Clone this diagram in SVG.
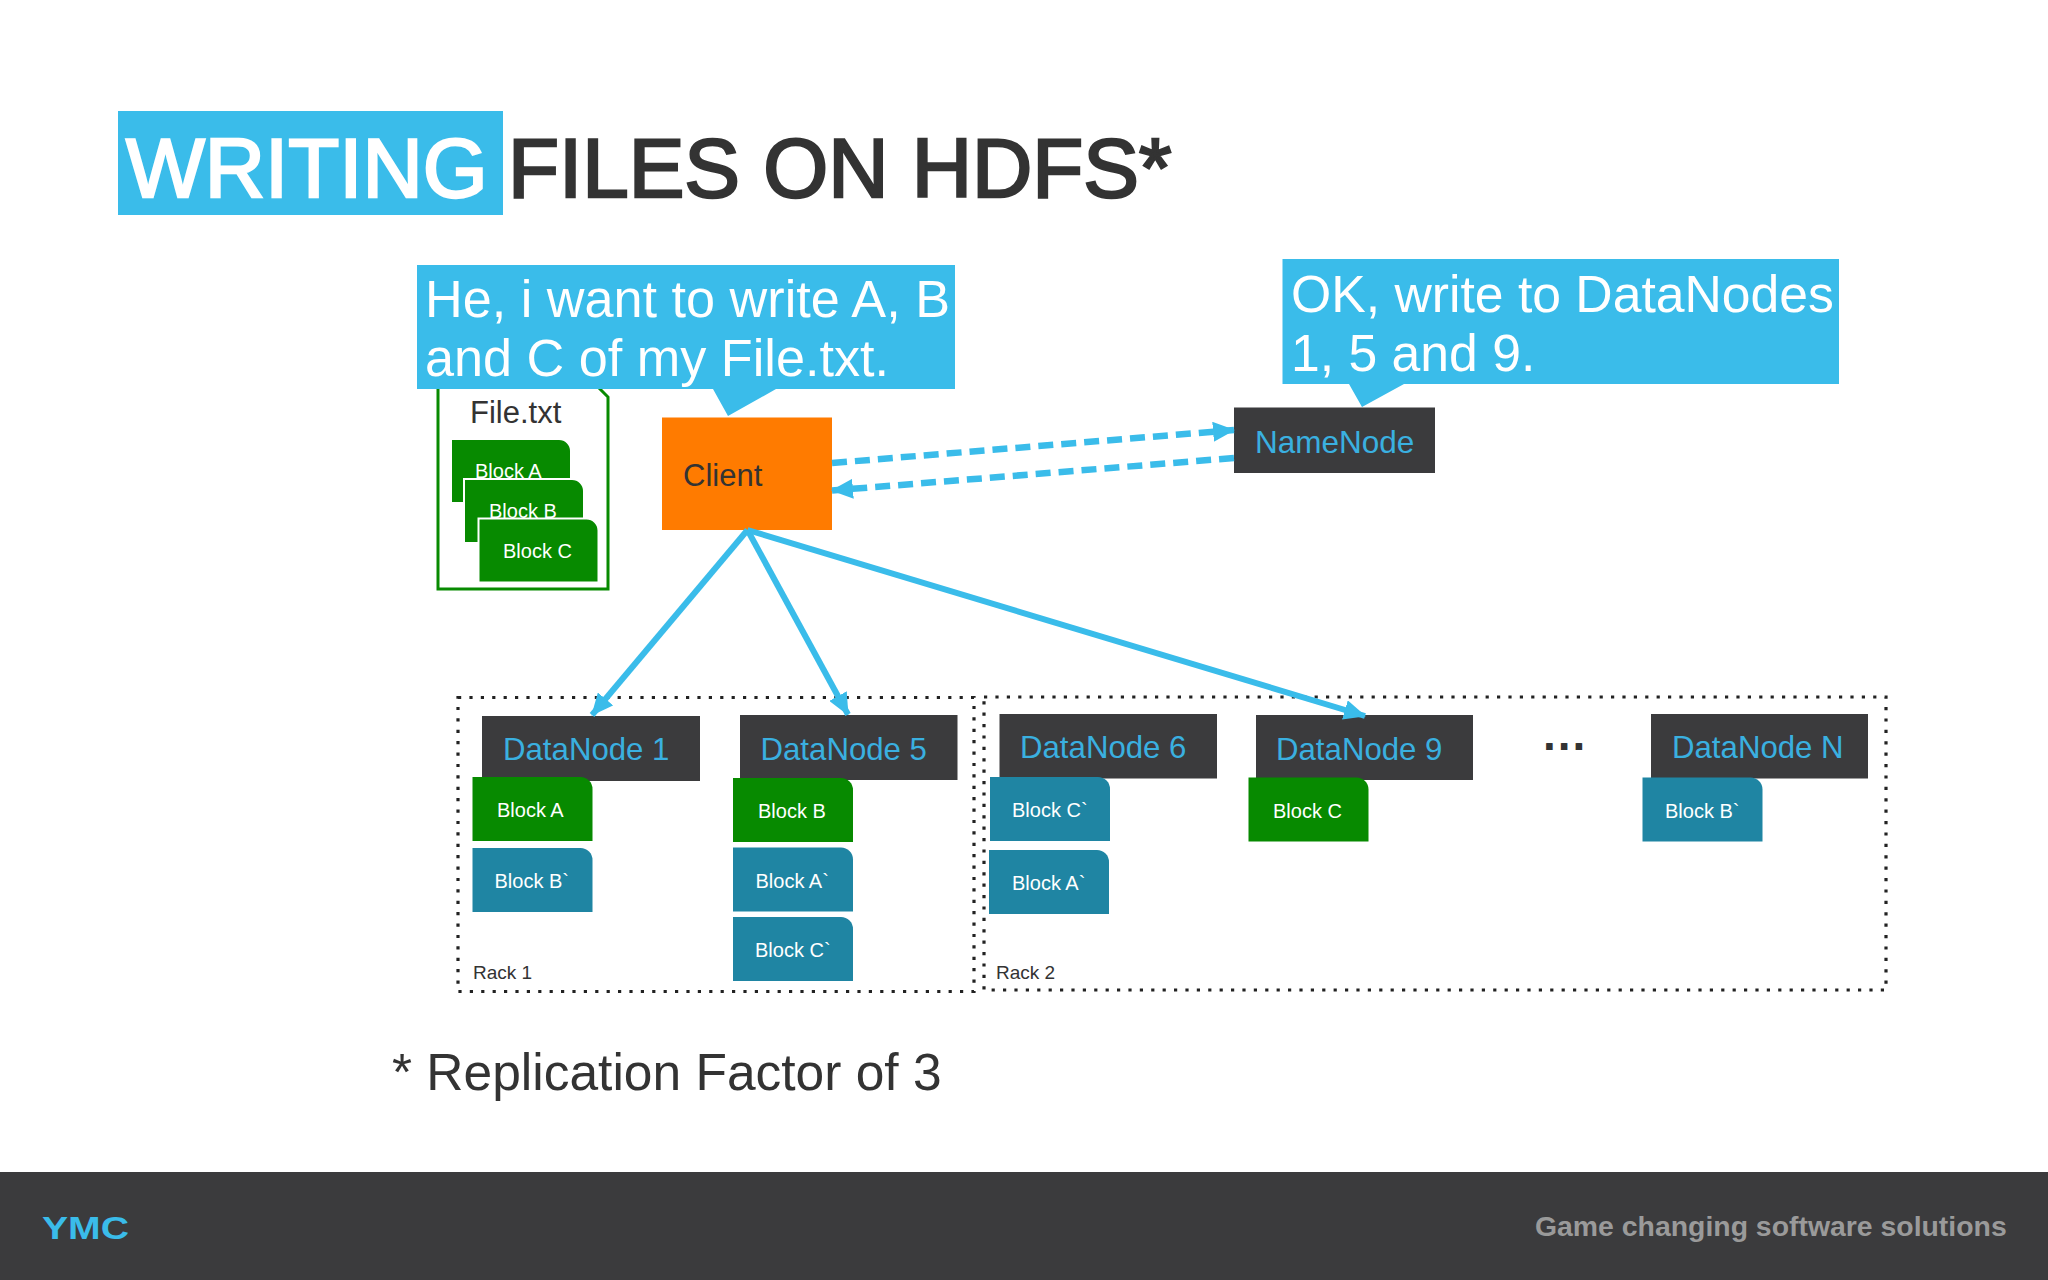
<svg xmlns="http://www.w3.org/2000/svg" width="2048" height="1280" viewBox="0 0 2048 1280">
<defs>
<style>
text{font-family:"Liberation Sans",Arial,sans-serif}
.blue{fill:#3abcea}
.dark{fill:#3b3b3d}
.bubble{font-size:51.700px;fill:#fff}
.dn{font-size:31.200px;fill:#3ab0e0}
.blk{font-size:20px;fill:#fff}
.green{fill:#078a00}
.teal{fill:#1f85a3}
.rack{fill:none;stroke:#222;stroke-width:3.2;stroke-dasharray:3.2 8.2}
.rl{font-size:19px;fill:#333}
.solid{stroke:#3abcea;stroke-width:6;fill:none;marker-end:url(#ah)}
.dash{stroke:#3abcea;stroke-width:6.500;fill:none;stroke-dasharray:15 8;marker-end:url(#ah)}
</style>
<marker id="ah" markerUnits="userSpaceOnUse" markerWidth="22" markerHeight="20" refX="21" refY="10" orient="auto"><path d="M0 0L22 10L0 20z" fill="#3abcea"/></marker>
<path id="b" d="M0 0H108a12 12 0 0 1 12 12V64H0z"/>
</defs>
<rect width="2048" height="1280" fill="#fff"/>
<g id="title">
<rect x="118" y="111" width="385" height="104" class="blue"/>
<text x="126" y="197" font-size="83.500" fill="#fff" stroke="#fff" stroke-width="2.500">WRITING</text>
<text x="508" y="197" font-size="83.500" fill="#333" stroke="#333" stroke-width="2.500">FILES ON HDFS*</text>
</g>
<g id="racks">
<rect x="458" y="697.500" width="516" height="294" class="rack"/>
<rect x="984" y="697" width="902" height="293" class="rack"/>
<text x="473" y="979" class="rl">Rack 1</text>
<text x="996" y="979" class="rl">Rack 2</text>
</g>
<g id="file">
<path d="M438 380V589H608V397L599 388" fill="#fff" stroke="#078a00" stroke-width="3"/>
<text x="470" y="422.500" font-size="31" fill="#333">File.txt</text>
<use href="#b" x="451" y="439" class="green" stroke="#fff" stroke-width="2"/>
<text x="475" y="478" class="blk">Block A</text>
<use href="#b" x="464" y="479" class="green" stroke="#fff" stroke-width="2"/>
<text x="489" y="518" class="blk">Block B</text>
<use href="#b" x="478.500" y="518.500" class="green" stroke="#fff" stroke-width="2"/>
<text x="503" y="558" class="blk">Block C</text>
</g>
<g id="client">
<rect x="662" y="417.500" width="170" height="112.500" fill="#ff7b00"/>
<text x="683" y="486" font-size="31" fill="#333">Client</text>
</g>
<g id="bubble-client">
<path d="M417 265H955V389H776L728 416L713 389H417z" class="blue"/>
<text x="425" y="317" class="bubble" style="font-size:52.200px">He, i want to write A, B</text>
<text x="425" y="376" class="bubble" style="font-size:52.200px">and C of my File.txt.</text>
</g>
<g id="bubble-namenode">
<path d="M1282.500 259H1839V384H1404L1362 407L1349 384H1282.500z" class="blue"/>
<text x="1291" y="312" class="bubble">OK, write to DataNodes</text>
<text x="1291" y="371" class="bubble">1, 5 and 9.</text>
</g>
<g id="namenode">
<rect x="1234" y="407.500" width="201" height="65.500" class="dark"/>
<text x="1255" y="453" class="dn" style="font-size:31.500px">NameNode</text>
</g>
<g id="datanode-1">
<rect x="482" y="716" width="218" height="65" class="dark"/>
<text x="503" y="760" class="dn">DataNode 1</text>
<use href="#b" x="472.500" y="777" class="green"/>
<text x="497" y="817" class="blk">Block A</text>
<use href="#b" x="472.500" y="848" class="teal"/>
<text x="494.500" y="888" class="blk">Block B`</text>
</g>
<g id="datanode-5">
<rect x="740" y="715" width="217.500" height="65" class="dark"/>
<text x="760.500" y="760" class="dn">DataNode 5</text>
<use href="#b" x="733" y="778" class="green"/>
<text x="758" y="818" class="blk">Block B</text>
<use href="#b" x="733" y="847.500" class="teal"/>
<text x="755.500" y="887.500" class="blk">Block A`</text>
<use href="#b" x="733" y="917" class="teal"/>
<text x="755" y="957" class="blk">Block C`</text>
</g>
<g id="datanode-6">
<rect x="999.500" y="714" width="217.500" height="64.500" class="dark"/>
<text x="1020" y="758" class="dn">DataNode 6</text>
<use href="#b" x="990" y="777" class="teal"/>
<text x="1012" y="817" class="blk">Block C`</text>
<use href="#b" x="989" y="850" class="teal"/>
<text x="1012" y="890" class="blk">Block A`</text>
</g>
<g id="datanode-9">
<rect x="1256" y="715" width="217" height="65" class="dark"/>
<text x="1276" y="759.500" class="dn">DataNode 9</text>
<use href="#b" x="1248.500" y="777.500" class="green"/>
<text x="1273" y="817.500" class="blk">Block C</text>
</g>
<g id="datanode-n">
<rect x="1651" y="714" width="217" height="64.500" class="dark"/>
<text x="1672" y="758" class="dn">DataNode N</text>
<use href="#b" x="1642.500" y="777.500" class="teal"/>
<text x="1665" y="817.500" class="blk">Block B`</text>
</g>
<text x="1543" y="750" font-size="46" font-weight="bold" letter-spacing="2" fill="#333">...</text>
<g id="connectors">
<path d="M832 463L1234 430" class="dash"/>
<path d="M1234 458L832 490.500" class="dash"/>
<path d="M747.500 530L592 715" class="solid"/>
<path d="M747.500 530L848 714.500" class="solid"/>
<path d="M747.500 530L1365 716" class="solid"/>
</g>
<text x="392" y="1090" font-size="51.500" fill="#333">* Replication Factor of 3</text>
<g id="footer">
<rect y="1172" width="2048" height="108" class="dark"/>
<text x="42" y="1239" font-size="31" font-weight="bold" fill="#3abcea" textLength="87" lengthAdjust="spacingAndGlyphs">YMC</text>
<text x="1535" y="1236" font-size="28.400" font-weight="bold" fill="#9a9a9a">Game changing software solutions</text>
</g>
</svg>
